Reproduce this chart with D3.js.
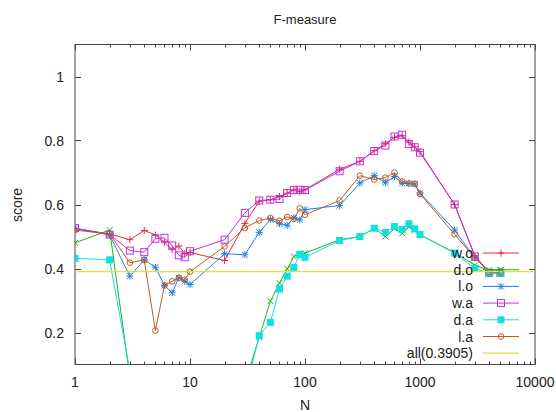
<!DOCTYPE html>
<html><head><meta charset="utf-8">
<script src="https://cdn.jsdelivr.net/npm/d3@7"></script>
<style>
body{margin:0;background:#fff;}
svg text{font-family:"Liberation Sans",Arial,sans-serif;fill:#222;}
</style></head>
<body><svg id="c" width="556" height="412"></svg>
<script>
const N = [1,2,3,4,5,6,7,8,9,10,20,30,40,50,60,70,80,90,100,200,300,400,500,600,700,800,900,1000,2000,3000,4000,5000];
const wo = [0.525,0.508,0.49,0.519,0.505,0.482,0.459,0.47,0.447,0.45,0.425,0.541,0.61,0.615,0.625,0.635,0.646,0.64,0.646,0.71,0.735,0.768,0.79,0.81,0.815,0.795,0.78,0.765,0.6,0.44,0.388,0.388];
const dO = [0.48,0.52,0.06,0.05,0.04,0.04,0.05,0.05,0.05,0.05,0.05,0.04,0.185,0.298,0.355,0.399,0.4375,0.445,0.448,0.49,0.5,0.525,0.5,0.525,0.51,0.53,0.52,0.505,0.45,0.41,0.395,0.395];
const lo = [0.525,0.505,0.376,0.427,0.404,0.347,0.324,0.371,0.36,0.35,0.446,0.443,0.513,0.553,0.54,0.535,0.558,0.552,0.584,0.597,0.667,0.69,0.668,0.6875,0.667,0.666,0.664,0.636,0.52,0.433,0.39,0.39];
const wa = [0.526,0.506,0.456,0.451,0.493,0.496,0.472,0.441,0.435,0.454,0.49,0.574,0.6125,0.615,0.617,0.636,0.645,0.646,0.645,0.704,0.735,0.767,0.784,0.8125,0.818,0.789,0.779,0.762,0.6,0.4375,0.386,0.386];
const da = [0.432,0.427,0.08,0.05,0.05,0.05,0.05,0.05,0.05,0.05,0.03,0.01,0.19,0.232,0.336,0.376,0.403,0.444,0.435,0.4875,0.5,0.526,0.513,0.531,0.522,0.54,0.524,0.506,0.448,0.4,0.385,0.385];
const la = [0.52,0.508,0.418,0.427,0.206,0.347,0.36,0.371,0.365,0.39,0.469,0.527,0.55,0.558,0.549,0.561,0.555,0.588,0.568,0.6125,0.69,0.678,0.684,0.70,0.672,0.666,0.665,0.633,0.507,0.433,0.388,0.388];
const allValue = 0.3905;
const seriesNames = ["w.o","d.o","l.o","w.a","d.a","l.a"];
const seriesValues = [wo,dO,lo,wa,da,la];
const seriesColors = ["#e8283a","#22b022","#1f80e0","#c030e0","#10e0e0","#c05a20"];
const seriesMarkers = ["plus","cross","star","square","fsquare","circle"];
const allLabel = "all(0.3905)";
const allColor = "#e6e032";
const xTicks = [1,10,100,1000,10000];
const yTicks = [0.2,0.4,0.6,0.8,1];

const svg = d3.select("#c");
const L=75,R=535,T=44.5,B=364.5;
const x = d3.scaleLog().domain([1,10000]).range([L,R]);
const y = d3.scaleLinear().domain([0.1,1.1]).range([B,T]);

svg.append("defs").append("clipPath").attr("id","clip")
  .append("rect").attr("x",L).attr("y",T).attr("width",R-L).attr("height",B-T);

// frame
svg.append("rect").attr("x",L).attr("y",T).attr("width",R-L).attr("height",B-T)
  .attr("fill","none").attr("stroke","#444").attr("stroke-width",1);

// x ticks (major + minor, mirrored)
const minor = [];
for (let d=1; d<10000; d*=10) for (let k=2;k<=9;k++) minor.push(d*k);
const tg = svg.append("g").attr("stroke","#444").attr("stroke-width",1);
minor.forEach(v=>{
  const px = Math.round(x(v))+0.5;
  tg.append("line").attr("x1",px).attr("x2",px).attr("y1",B).attr("y2",B-3);
  tg.append("line").attr("x1",px).attr("x2",px).attr("y1",T).attr("y2",T+3);
});
xTicks.forEach(v=>{
  const px = Math.round(x(v))+0.5;
  tg.append("line").attr("x1",px).attr("x2",px).attr("y1",B).attr("y2",B-6);
  tg.append("line").attr("x1",px).attr("x2",px).attr("y1",T).attr("y2",T+6);
  svg.append("text").attr("x",x(v)).attr("y",B+22).attr("text-anchor","middle")
    .attr("font-size",14).text(v);
});
yTicks.forEach(v=>{
  const py = Math.round(y(v))+0.5;
  tg.append("line").attr("x1",L).attr("x2",L+6).attr("y1",py).attr("y2",py);
  tg.append("line").attr("x1",R).attr("x2",R-6).attr("y1",py).attr("y2",py);
  svg.append("text").attr("x",64).attr("y",y(v)+5).attr("text-anchor","end")
    .attr("font-size",14).text(d3.format("")(v));
});

svg.append("text").attr("x",305).attr("y",24).attr("text-anchor","middle").attr("font-size",13).text("F-measure");
svg.append("text").attr("x",305).attr("y",410).attr("text-anchor","middle").attr("font-size",14).text("N");
svg.append("text").attr("transform","translate(22,205) rotate(-90)").attr("text-anchor","middle").attr("font-size",14).text("score");

function marker(g, type, cx, cy, color){
  const s=3.5;
  if(type==="plus"){
    g.append("path").attr("d",`M${cx-s},${cy}h${2*s}M${cx},${cy-s}v${2*s}`).attr("stroke",color).attr("fill","none");
  } else if(type==="cross"){
    g.append("path").attr("d",`M${cx-3},${cy-3}L${cx+3},${cy+3}M${cx-3},${cy+3}L${cx+3},${cy-3}`).attr("stroke",color).attr("fill","none");
  } else if(type==="star"){
    g.append("path").attr("d",`M${cx-s},${cy}h${2*s}M${cx},${cy-s}v${2*s}M${cx-3},${cy-3}L${cx+3},${cy+3}M${cx-3},${cy+3}L${cx+3},${cy-3}`).attr("stroke",color).attr("fill","none");
  } else if(type==="square"){
    g.append("rect").attr("x",cx-3.5).attr("y",cy-3.5).attr("width",7).attr("height",7).attr("stroke",color).attr("fill","none");
  } else if(type==="fsquare"){
    g.append("rect").attr("x",cx-3.5).attr("y",cy-3.5).attr("width",7).attr("height",7).attr("fill",color);
  } else if(type==="circle"){
    g.append("circle").attr("cx",cx).attr("cy",cy).attr("r",2.8).attr("stroke",color).attr("fill","none");
  }
}

const plot = svg.append("g").attr("clip-path","url(#clip)");
const line = d3.line().x((d,i)=>x(N[i])).y(d=>y(d));
seriesValues.forEach((vals,si)=>{
  const c = seriesColors[si];
  plot.append("path").attr("d",line(vals)).attr("fill","none").attr("stroke",c).attr("stroke-width",1);
  const mg = plot.append("g").attr("stroke-width",1);
  vals.forEach((v,i)=>{ if(v>=0.1) marker(mg, seriesMarkers[si], x(N[i]), y(v), c); });
});
plot.append("line").attr("x1",L).attr("x2",R).attr("y1",y(allValue)).attr("y2",y(allValue))
  .attr("stroke",allColor).attr("stroke-width",1.2);

// legend
const ly0 = 253, dy = 16.7;
seriesNames.concat([allLabel]).forEach((name,i)=>{
  const ly = ly0 + i*dy;
  svg.append("text").attr("x",473).attr("y",ly+5).attr("text-anchor","end").attr("font-size",14).text(name);
  const c = i<6 ? seriesColors[i] : allColor;
  svg.append("line").attr("x1",483).attr("x2",519).attr("y1",ly).attr("y2",ly).attr("stroke",c).attr("stroke-width",i<6?1:1.2);
  if(i<6) marker(svg.append("g"), seriesMarkers[i], 501, ly, c);
});
</script></body></html>
